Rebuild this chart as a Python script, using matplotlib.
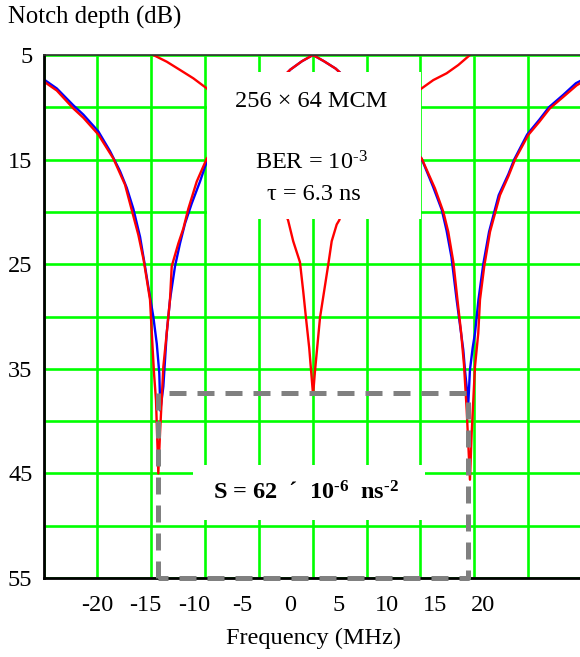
import numpy as np
import matplotlib
matplotlib.use("Agg")
import matplotlib.pyplot as plt
from matplotlib.patches import Rectangle
from matplotlib.ticker import FixedLocator

plt.rcParams['font.family'] = ['Liberation Serif', 'DejaVu Serif']
plt.rcParams['mathtext.fontset'] = 'custom'
plt.rcParams['mathtext.rm'] = 'Liberation Serif'
plt.rcParams['mathtext.it'] = 'Liberation Serif:italic'
plt.rcParams['mathtext.bf'] = 'Liberation Serif:bold'

# ---------------- data (frequency in MHz, notch depth in dB) ----------------
blue_f = [-25.6, -24.2, -22.5, -21.45, -19.9, -18.68, -17.65, -16.95, -16.27, -15.57,
          -15.06, -14.71, -14.2, -13.84, -13.58, -13.47, -13.16, -12.81, -12.47, -11.95,
          -11.43, -10.91, -10.22, -9.36, -8.66, -6.0, -4.0, -2.0, 0.0, 1.2,
          2.35, 3.5, 4.7, 6.0, 8.5, 11.0, 12.2, 13.6, 14.8, 15.7,
          16.2, 16.7, 17.24, 17.6, 17.93, 18.1, 18.45, 18.62, 18.9, 19.14,
          19.5, 20.0, 20.6, 21.6, 22.6, 23.2, 24.55, 25.8, 26.8, 28.3, 29.6, 30.23]
blue_db = [7.3, 8.2, 9.8, 10.7, 12.3, 14.2, 16.1, 17.7, 19.7, 22.4,
           25.2, 27.2, 30.0, 32.6, 35.4, 39.0, 36.7, 31.6, 28.4, 25.2,
           23.0, 21.1, 19.2, 17.1, 15.2, 12.4, 10.3, 8.4, 6.4, 5.6,
           5.0, 5.6, 6.3, 7.4, 9.6, 12.2, 13.4, 14.9, 17.6, 19.8,
           21.8, 24.3, 28.4, 30.9, 33.2, 35.1, 38.3, 35.1, 33.0, 31.6,
           28.4, 25.0, 21.9, 18.4, 16.4, 15.0, 12.6, 11.2, 10.0, 8.8, 7.7, 7.4]

red_f = [-25.6, -24.2, -22.5, -21.45, -19.9, -18.34, -17.13, -16.44, -15.75, -15.2,
         -14.54, -14.26, -14.12, -13.92, -13.68, -13.5, -13.16, -12.81, -12.47, -12.29,
         -11.6, -11.09, -10.57, -9.7, -8.66, -6.0, -4.0, -2.0, 0.0, 1.2,
         2.35, 3.5, 4.7, 6.0, 8.5, 11.0, 12.2, 13.62, 14.99, 15.86,
         16.37, 16.9, 17.3, 17.7, 18.0, 18.28, 18.62, 18.8, 19.14, 19.48,
         19.66, 20.1, 20.7, 21.73, 22.6, 23.29, 24.66, 25.8, 26.9, 28.3, 29.68, 30.23]
red_db = [7.5, 8.4, 10.1, 11.0, 12.6, 14.9, 17.4, 19.8, 22.2, 24.6,
          28.4, 33.2, 35.5, 38.0, 45.0, 41.1, 34.8, 31.6, 28.4, 25.2,
          23.0, 21.6, 19.7, 17.1, 14.9, 12.2, 10.1, 8.2, 6.4, 5.6,
          5.0, 5.6, 6.3, 7.4, 9.8, 12.4, 13.5, 14.9, 17.75, 20.0,
          21.9, 24.8, 28.2, 31.5, 34.6, 38.9, 45.6, 41.1, 34.8, 31.6,
          28.4, 25.2, 21.9, 18.4, 16.6, 15.0, 12.65, 11.4, 10.1, 9.0, 7.9, 7.6]

center_f = [-14.2, -12.81, -11.43, -10.05, -8.66, -5.0, -2.5, -0.23, 0.3, 1.0,
            1.34, 1.62, 1.96, 2.36, 2.55, 3.08, 3.94, 4.29, 4.81, 5.07,
            7.0, 10.0, 13.62, 14.82, 16.2, 17.41, 18.62]
center_db = [5.0, 5.64, 6.43, 7.23, 8.19, 11.5, 15.5, 20.8, 22.8, 24.8,
             27.6, 30.1, 33.0, 37.5, 35.3, 30.1, 25.0, 22.8, 21.2, 20.8,
             15.5, 10.5, 8.19, 7.4, 6.75, 5.96, 5.0]

# dashed region marking S
region_f = [-13.68, -13.68, 18.45, 18.45, -13.68]
region_db = [55, 37.3, 37.3, 55, 55]

xtick_vals = [-20, -15, -10, -5, 0, 5, 10, 15, 20]
ytick_vals = [5, 15, 25, 35, 45, 55]

# ---------------- figure ----------------
fig = plt.figure(figsize=(5.8, 6.57), dpi=100)
ax = fig.add_axes([0.075, 0.1202, 0.9284, 0.7961])
xlim = (-25.58, 30.23)
ax.set_xlim(*xlim)
ax.set_ylim(55, 5)

ax.set_xticks(xtick_vals)
ax.set_xticklabels([str(v) for v in xtick_vals])
ax.xaxis.set_minor_locator(FixedLocator(np.linspace(xlim[0], xlim[1], 11)))
ax.set_yticks(ytick_vals)
ax.set_yticklabels([str(v) for v in ytick_vals])
ax.yaxis.set_minor_locator(FixedLocator(np.arange(10, 55, 10)))
ax.tick_params(which='both', length=0, labelsize=17.5)
ax.tick_params(axis='x', pad=12)
ax.tick_params(axis='y', pad=8)

ax.set_axisbelow(True)
ax.grid(which='minor', axis='x', color='#00ff00', lw=1.9)
ax.grid(which='both', axis='y', color='#00ff00', lw=1.9)

for s in ['left', 'bottom']:
    ax.spines[s].set_color('black')
    ax.spines[s].set_linewidth(2)
ax.spines['top'].set_color('#303030')
ax.spines['top'].set_linewidth(1.2)
ax.spines['right'].set_visible(False)

ax.plot(blue_f, blue_db, color='#0000ff', lw=1.7, zorder=2)
ax.plot(red_f, red_db, color='#ff0000', lw=1.7, zorder=2.1)
ax.plot(center_f, center_db, color='#ff0000', lw=1.7, zorder=2.1)

# white label boxes
ax.add_patch(Rectangle((-8.63, 6.63), 13.54 + 8.63, 20.68 - 6.63,
                       facecolor='white', edgecolor='none', zorder=3))
ax.add_patch(Rectangle((-10.06, 44.2), 13.96 + 10.06, 49.45 - 44.2,
                       facecolor='white', edgecolor='none', zorder=3))

ax.plot(region_f, region_db, color='#808080', lw=3.6, dashes=(3.4, 2.2),
        zorder=4, clip_on=False, solid_capstyle='butt', dash_capstyle='butt')

tkw = dict(ha='center', va='center', fontsize=17.5, zorder=5)
ax.text(2.2, 9.4, '256 × 64 MCM', **tkw)
ax.text(2.2, 15.3, 'BER = 10$^{\u20103}$', **tkw)
ax.text(2.4, 18.3, 'τ = 6.3 ns', **tkw)
ax.text(1.6, 46.9, 'S = 62  ´  10$^{\\mathbf{\u20106}}$  ns$^{\\mathbf{\u20102}}$',
        fontweight='bold', **tkw)

fig.text(0.014, 0.974, 'Notch depth (dB)', ha='left', va='center', fontsize=17.8)
fig.text(0.54, 0.029, 'Frequency (MHz)', ha='center', va='center', fontsize=17.5)

fig.savefig('out.png', dpi=100)
